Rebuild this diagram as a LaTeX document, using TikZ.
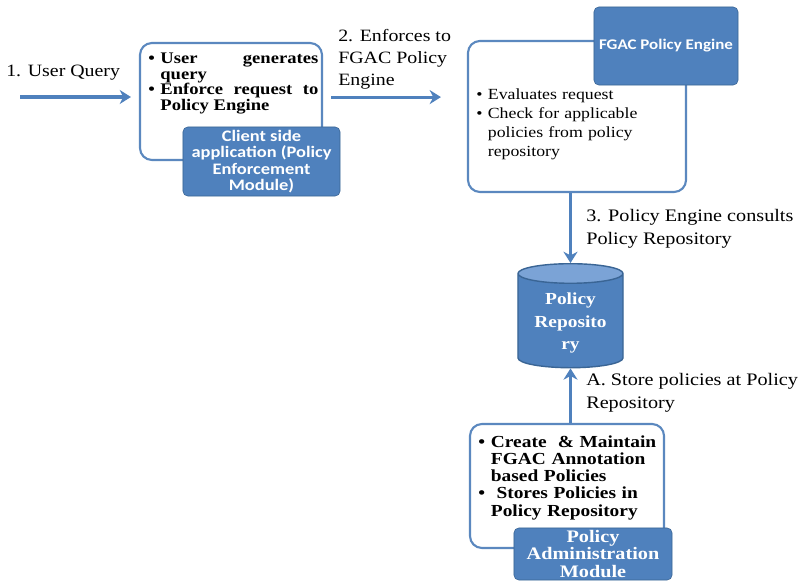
\documentclass[tikz,border=0pt]{standalone}
\usepackage{fontspec}
\setmainfont{Liberation Serif}[FakeStretch=1.15]
\newfontfamily\calib{Carlito}[FakeStretch=1.15]
\usetikzlibrary{arrows.meta,positioning,shapes.geometric}
\definecolor{pblue}{HTML}{4F81BD}
\definecolor{pdark}{HTML}{3A6595}
\definecolor{pline}{HTML}{5B88BF}
\definecolor{ptop}{HTML}{7BA3D6}
% bullet item with hanging indent
\newcommand{\bul}{\par\noindent\hangindent=0.75em\hangafter=1\makebox[0.75em][l]{\textbullet}}

\begin{document}
\begin{tikzpicture}[x=0.025cm, y=-0.025cm,
	panel/.style={draw=pline, line width=1.5pt, rounded corners=0.3cm, fill=white},
	tag/.style={draw=pdark, fill=pblue, rounded corners=0.12cm, text=white, align=center, inner sep=0pt},
	flow/.style={draw=pblue, line width=2.2pt, -{Stealth[length=8pt,width=10pt]}},
	note/.style={anchor=west, align=left, inner sep=0pt, font=\fontsize{12.3}{15.5}\selectfont},
	bullets/.style={anchor=north west, inner sep=0pt, align=left}]
	\useasboundingbox[fill=white] (0,0) rectangle (798,582);
	
	% Client side application
	\node[panel, minimum width=4.55cm, minimum height=2.925cm] (client) at (231,101.5) {};
	\node[bullets, text width=4.25cm, align=justify, font=\bfseries\fontsize{11.5}{11}\selectfont] (clienttxt) at (148,48)
		{\bul User generates\linebreak query\bul Enforce request to Policy Engine\par};
	\node[tag, minimum width=3.925cm, minimum height=1.725cm, font=\calib\bfseries\fontsize{11.4}{11.8}\selectfont] (clienttag) at (261.5,161.5)
		{Client side\\application (Policy\\Enforcement\\Module)};
	
	% FGAC policy engine
	\node[panel, minimum width=5.45cm, minimum height=3.775cm] (fgac) at (577,116.5) {};
	\node[bullets, text width=4.2cm, font=\fontsize{11}{13.5}\selectfont] (fgactxt) at (476,80)
		{\bul Evaluates request\bul Check for applicable\newline policies from policy\newline repository\par};
	\node[tag, minimum width=3.6cm, minimum height=1.95cm, font=\calib\bfseries\fontsize{10.5}{12}\selectfont] (fgactag) at (666,46)
		{FGAC Policy Engine};
	
	% Policy repository
	\node[cylinder, shape border rotate=90, aspect=0.24, draw=pdark, line width=1pt, anchor=north,
		cylinder uses custom fill, cylinder body fill=pblue, cylinder end fill=ptop,
		minimum width=2.625cm, minimum height=2.6cm, text=white, align=center,
		font=\bfseries\fontsize{12}{16}\selectfont] (repo) at (570.5,263) {Policy\\Reposito\\ry};
	
	% Policy administration module
	\node[panel, minimum width=4.85cm, minimum height=3.1cm] (pam) at (567,486) {};
	\node[bullets, text width=4.6cm, font=\bfseries\fontsize{12}{12.2}\selectfont] (pamtxt) at (478,430)
		{\bul Create \ \& Maintain\newline FGAC Annotation\newline based Policies\bul \ Stores Policies in\newline Policy Repository\par};
	\node[tag, minimum width=3.95cm, minimum height=1.3cm, font=\bfseries\fontsize{12.5}{12.5}\selectfont] (pamtag) at (593,554)
		{Policy\\Administration\\Module};
	
	% Flow between the parts
	\coordinate (start) at (20,97);
	\draw[flow, shorten >=0.2cm] (start) -- (start -| client.west);
	\draw[flow, shorten <=0.2cm, shorten >=0.65cm] ([yshift=0.11cm]client.east) -- ([yshift=0.11cm]client.east -| fgac.west);
	\draw[flow] (repo.north |- fgac.south) -- (repo.north);
	\draw[flow] (repo.south |- pam.north) -- (repo.south);
	
	% Step labels
	\node[note] (q1) at (6,73) {1. User Query};
	\node[note] (q2) at (338,59) {2. Enforces to\\FGAC Policy\\Engine};
	\node[note, font=\fontsize{12.5}{16.3}\selectfont] (q3) at (586,229) {3. Policy Engine consults\\Policy Repository};
	\node[note, font=\fontsize{12.5}{16.3}\selectfont] (qa) at (586,393) {A. Store policies at Policy\\Repository};
\end{tikzpicture}
\end{document}
